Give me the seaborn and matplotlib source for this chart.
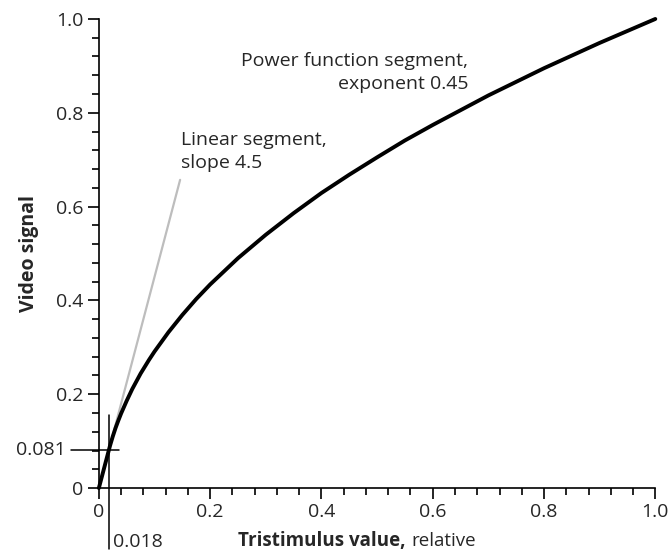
import numpy as np
import matplotlib
matplotlib.use('Agg')
import matplotlib.pyplot as plt
import pandas as pd
import seaborn as sns
from matplotlib.ticker import MultipleLocator, FuncFormatter

# values
tristimulus = [0, 0.018, 0.02, 0.025, 0.03, 0.035, 0.04, 0.05, 0.06, 0.075, 0.09,
               0.1, 0.125, 0.15, 0.175, 0.2, 0.25, 0.3, 0.35, 0.4, 0.45, 0.5,
               0.55, 0.6, 0.7, 0.8, 0.9, 1.0]
video = [0, 0.081, 0.090, 0.110, 0.128, 0.144, 0.159, 0.186, 0.211, 0.244, 0.273,
         0.291, 0.332, 0.369, 0.403, 0.434, 0.490, 0.540, 0.586, 0.629, 0.668, 0.705,
         0.741, 0.774, 0.837, 0.895, 0.949, 1.0]
linear_x = [0, 0.146]
linear_y = [0, 0.657]
knee_x = 0.018
knee_y = 0.081

sns.set_style('ticks')
plt.rcParams['font.family'] = ['Open Sans', 'DejaVu Sans']

df = pd.DataFrame({'L': tristimulus, 'V': video})
lin = pd.DataFrame({'L': linear_x, 'V': linear_y})

fig = plt.figure(figsize=(6.68, 5.58), dpi=100)
ax = fig.add_axes([0.148, 0.1254, 0.833, 0.8406])

sns.lineplot(data=lin, x='L', y='V', ax=ax, color='#bdbdbd', linewidth=1.6,
             sort=False, estimator=None)
sns.lineplot(data=df, x='L', y='V', ax=ax, color='black', linewidth=2.8,
             sort=False, estimator=None, clip_on=False)

ax.set_xlim(0, 1)
ax.set_ylim(0, 1)
sns.despine(ax=ax)
for s in ['left', 'bottom']:
    ax.spines[s].set_linewidth(1.2)
    ax.spines[s].set_color('black')

ax.xaxis.set_major_locator(MultipleLocator(0.2))
ax.yaxis.set_major_locator(MultipleLocator(0.2))
ax.xaxis.set_minor_locator(MultipleLocator(0.04))
ax.yaxis.set_minor_locator(MultipleLocator(0.04))
fmt = FuncFormatter(lambda v, p: '0' if abs(v) < 1e-9 else f'{v:.1f}')
ax.xaxis.set_major_formatter(fmt)
ax.yaxis.set_major_formatter(fmt)
ax.tick_params(which='major', length=8, width=1.2, labelsize=14, color='black', pad=3)
ax.tick_params(which='minor', length=5, width=1.2, color='black')

# knee cross lines
ax.plot([-0.05, 0.037], [knee_y, knee_y], color='black', lw=1.1, clip_on=False)
ax.plot([knee_x, knee_x], [0.156, -0.13], color='black', lw=1.1, clip_on=False)
ax.text(-0.06, knee_y, '0.081', ha='right', va='center', fontsize=14)
ax.text(0.026, -0.115, '0.018', ha='left', va='center', fontsize=14)

ax.text(0.147, 0.762, 'Linear segment,\nslope 4.5', ha='left', va='top',
        fontsize=14, linespacing=1.36)
ax.text(0.664, 0.93, 'Power function segment,\nexponent 0.45', ha='right', va='top',
        fontsize=14, multialignment='right', linespacing=1.36)

ax.set_xlabel('')
ax.set_ylabel('Video signal', fontsize=14, fontweight='bold', labelpad=12)
ax.text(0.551, -0.112, 'Tristimulus value,', ha='right', va='center',
        fontsize=13.5, fontweight='bold', transform=ax.transData, clip_on=False)
ax.text(0.561, -0.112, 'relative', ha='left', va='center',
        fontsize=13.5, transform=ax.transData, clip_on=False)

fig.savefig('out.png', dpi=100)
